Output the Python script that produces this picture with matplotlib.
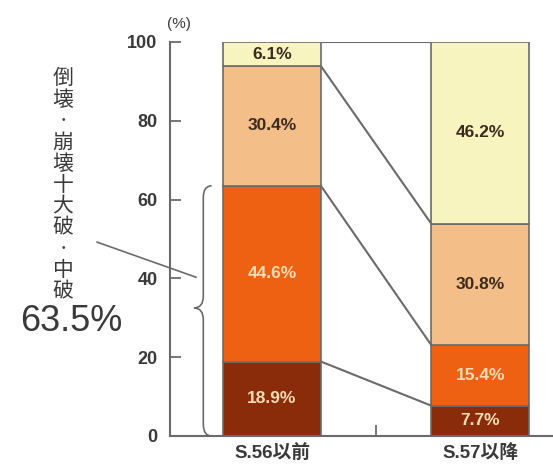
import matplotlib.pyplot as plt
import numpy as np
from matplotlib.path import Path
from matplotlib.patches import PathPatch

plt.rcParams['font.family'] = ['Liberation Sans', 'Noto Sans CJK JP', 'DejaVu Sans']

# damage share by construction period (bottom -> top)
periods = ['S.56以前', 'S.57以降']
damage_levels = ['倒壊・崩壊', '大破・中破', '小破', '軽微・無被害']
s56_values = [18.9, 44.6, 30.4, 6.1]
s57_values = [7.7, 15.4, 30.8, 46.2]
y_ticks = [0, 20, 40, 60, 80, 100]
severe_total = 63.5

colors = ['#8a2b0a', '#ee6012', '#f4be88', '#f8f4c0']
text_colors = ['#f6dcb4', '#f6dcb4', '#3b2a20', '#3b2a20']
line_color = '#6b6b6b'

fig = plt.figure(figsize=(5.53, 4.70), dpi=100)
ax = fig.add_axes([170 / 553, 34 / 470, 383 / 553, 394 / 470])

width = 0.47
x = np.arange(len(periods))
series = [s56_values, s57_values]
tops = []
for i, vals in enumerate(series):
    bottom = 0
    cum = []
    for j, v in enumerate(vals):
        ax.bar(x[i], v, width=width, bottom=bottom, color=colors[j],
               edgecolor=line_color, linewidth=1.2, zorder=2)
        ax.text(x[i], bottom + v / 2, f'{v}%', ha='center', va='center',
                fontsize=12.5, fontweight='bold', color=text_colors[j], zorder=4)
        bottom += v
        cum.append(min(bottom, 100))
    tops.append(cum)

# lines joining the matching boundaries of the two bars
for yl, yr in zip(tops[0], tops[1]):
    ax.plot([x[0] + width / 2, x[1] - width / 2], [yl, yr],
            color=line_color, linewidth=1.5, zorder=3)

ax.set_xlim(-0.49, 1.35)
ax.set_ylim(0, 100)
ax.set_yticks(y_ticks)
ax.set_xticks(x)
ax.set_xticklabels(periods)
ax.set_xticks([0.5], minor=True)
ax.tick_params(axis='y', direction='in', length=8, width=1.3, color=line_color,
               labelsize=13, labelcolor='#3a3a3a', pad=9)
ax.tick_params(axis='x', which='major', length=0, labelsize=13.5,
               labelcolor='#3a3a3a', pad=6)
ax.tick_params(axis='x', which='minor', direction='in', length=8, width=1.3,
               color=line_color)
for lab in ax.get_xticklabels() + ax.get_yticklabels():
    lab.set_fontweight('bold')
for side in ['top', 'right']:
    ax.spines[side].set_visible(False)
for side in ['left', 'bottom']:
    ax.spines[side].set_color(line_color)
    ax.spines[side].set_linewidth(1.5)

ax.text(-0.445, 104.5, '(%)', ha='center', va='center', fontsize=11,
        color='#3a3a3a', clip_on=False)

# curly brace over the severe-damage range
xr, xm, xl = -0.29, -0.33, -0.375
mid = 32.5
verts = [(xr, severe_total), (xm, severe_total), (xm, severe_total - 3),
         (xm, mid + 3), (xm, mid), (xl, mid),
         (xm, mid), (xm, mid - 3),
         (xm, 3), (xm, 0), (xr, 0)]
codes = [Path.MOVETO, Path.CURVE3, Path.CURVE3,
         Path.LINETO, Path.CURVE3, Path.CURVE3,
         Path.CURVE3, Path.CURVE3,
         Path.LINETO, Path.CURVE3, Path.CURVE3]
ax.add_patch(PathPatch(Path(verts, codes), facecolor='none', edgecolor=line_color,
                       linewidth=1.2, clip_on=False))

ax.plot([-0.84, -0.365], [49.2, 40.3], color=line_color, linewidth=1.2, clip_on=False)

# vertical caption, one character per line
caption = '\n'.join(['倒', '壊', '·', '崩', '壊', '十', '大', '破', '·', '中', '破'])
fig.text(63 / 553, 1 - 185 / 470, caption, ha='center', va='center', fontsize=15,
         color='#3a3a3a', linespacing=0.96, multialignment='center',
         family=['Noto Sans CJK JP', 'DejaVu Sans'])

ax.text(-0.966, 29.0, f'{severe_total}%', ha='center', va='center', fontsize=26,
        color='#3a3a3a', clip_on=False)

fig.savefig('out.png', dpi=100)
